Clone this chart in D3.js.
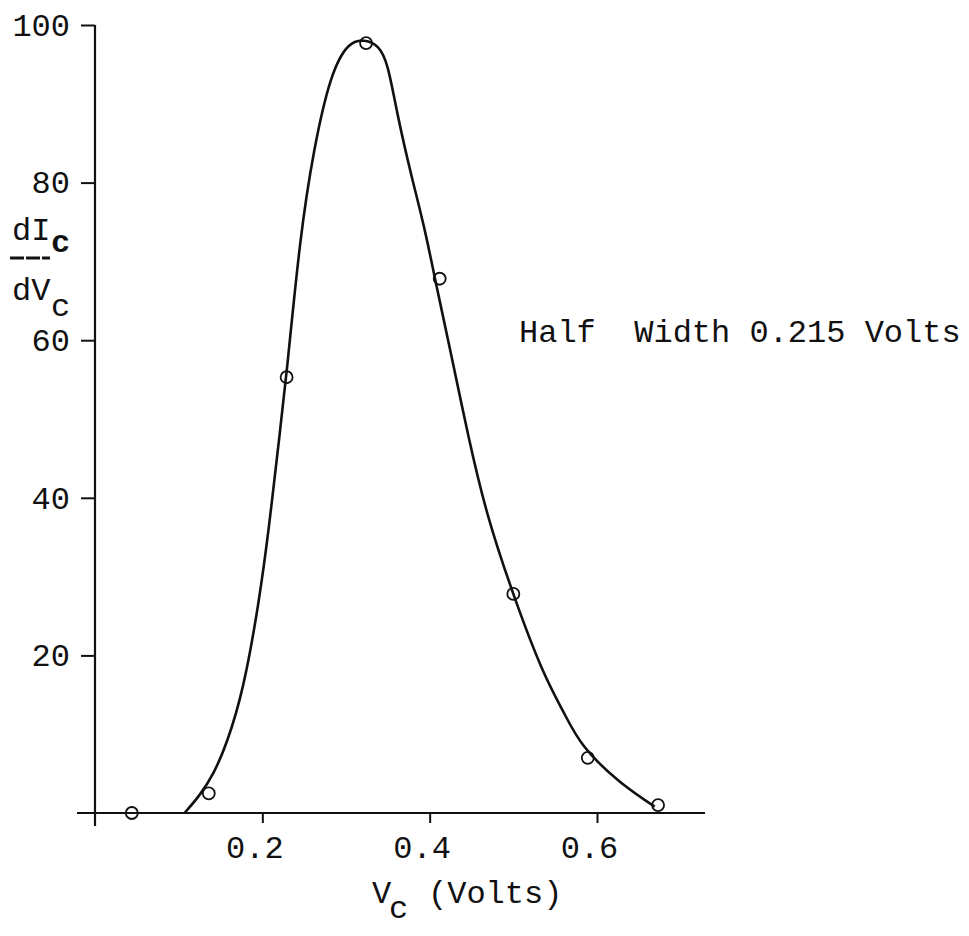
<!DOCTYPE html>
<html>
<head>
<meta charset="utf-8">
<script src="https://cdn.jsdelivr.net/npm/d3@7"></script>
<style>
  html, body { margin: 0; padding: 0; background: #fff; }
  svg text { font-family: "Liberation Mono", "DejaVu Sans Mono", monospace; fill: #111; }
</style>
</head>
<body>
<svg id="chart" width="969" height="936"></svg>
<script>
// Measured points: collector voltage (V) and dIc/dVc
const pointVolts = [0.044, 0.136, 0.229, 0.324, 0.412, 0.500, 0.589, 0.673];
const pointSlope = [0, 2.5, 55.3, 97.7, 67.8, 27.8, 7, 1];

// Hand-faired curve through the measurements
const curveVolts = [0.107, 0.125, 0.142, 0.158, 0.177, 0.195, 0.208, 0.219, 0.230, 0.245, 0.262, 0.282, 0.303, 0.322, 0.338, 0.350, 0.362, 0.378, 0.394, 0.409, 0.424, 0.446, 0.469, 0.500, 0.534, 0.560, 0.585, 0.627, 0.669];
const curveSlope = [0, 2.3, 5.2, 9.2, 16.2, 26.5, 36.5, 46.5, 57, 72, 84, 93, 97.3, 98, 97.2, 94.5, 88.5, 81, 74, 66.5, 59, 48, 38, 27.8, 18.4, 12.8, 8.4, 4.0, 0.8];

const xTicks = [0.2, 0.4, 0.6];
const xTickLabels = ["0.2", "0.4", "0.6"];
const yTicks = [20, 40, 60, 80, 100];
const note = "Half  Width 0.215 Volts";

const svg = d3.select("#chart");

const x = d3.scaleLinear().domain([0, 0.6]).range([95, 597]);
const y = d3.scaleLinear().domain([0, 100]).range([813, 25]);

const ink = "#111";

// Axes
const yAxis = d3.axisLeft(y).tickValues(yTicks).tickSize(14).tickPadding(11).tickFormat(d3.format("d"));
const gy = svg.append("g").attr("transform", `translate(${x(0)},0)`).call(yAxis);
gy.select(".domain").remove();
gy.selectAll(".tick line").attr("stroke", ink).attr("stroke-width", 2);
gy.selectAll(".tick text")
  .attr("font-size", 32).attr("dy", "0.32em").attr("fill", ink)
  .style("font-family", "'Liberation Mono', monospace");

svg.append("line")
  .attr("x1", x(0)).attr("x2", x(0))
  .attr("y1", y(100)).attr("y2", y(0) + 13)
  .attr("stroke", ink).attr("stroke-width", 2.2);

const xAxis = d3.axisBottom(x).tickValues(xTicks).tickSize(10).tickPadding(12)
  .tickFormat((d, i) => xTickLabels[i]);
const gx = svg.append("g").attr("transform", `translate(0,${y(0)})`).call(xAxis);
gx.select(".domain").remove();
gx.selectAll(".tick line").attr("stroke", ink).attr("stroke-width", 2);
gx.selectAll(".tick text")
  .attr("font-size", 32).attr("dx", -8).attr("dy", "0.72em").attr("fill", ink)
  .style("font-family", "'Liberation Mono', monospace");

svg.append("line")
  .attr("x1", 77).attr("x2", 705)
  .attr("y1", y(0)).attr("y2", y(0))
  .attr("stroke", ink).attr("stroke-width", 2);

// Faired curve
const line = d3.line()
  .x((d, i) => x(curveVolts[i]))
  .y((d, i) => y(curveSlope[i]))
  .curve(d3.curveNatural);
svg.append("path")
  .datum(curveVolts)
  .attr("d", line)
  .attr("fill", "none")
  .attr("stroke", ink)
  .attr("stroke-width", 2.6);

// Measured points
svg.append("g").selectAll("circle")
  .data(pointVolts)
  .join("circle")
  .attr("cx", (d) => x(d))
  .attr("cy", (d, i) => y(pointSlope[i]))
  .attr("r", 6)
  .attr("fill", "none")
  .attr("stroke", ink)
  .attr("stroke-width", 1.8);

// Annotation
svg.append("text")
  .attr("x", 519).attr("y", 342)
  .attr("font-size", 32)
  .attr("xml:space", "preserve")
  .style("white-space", "pre")
  .text(note);

// y-axis title: dIc / dVc
const yt = svg.append("g");
yt.append("text").attr("x", 12).attr("y", 240).attr("font-size", 32).text("dI");
yt.append("text").attr("x", 51).attr("y", 252).attr("font-size", 32).attr("font-weight", "bold").text("c");
yt.append("line").attr("x1", 10).attr("x2", 50).attr("y1", 258).attr("y2", 258)
  .attr("stroke", ink).attr("stroke-width", 3).attr("stroke-dasharray", "14 2");
yt.append("text").attr("x", 12).attr("y", 300).attr("font-size", 32).text("dV");
yt.append("text").attr("x", 51).attr("y", 316).attr("font-size", 32).text("c");

// x-axis title: Vc (Volts)
const xt = svg.append("g");
xt.append("text").attr("x", 372).attr("y", 903).attr("font-size", 32).text("V");
xt.append("text").attr("x", 389).attr("y", 918).attr("font-size", 32).text("c");
xt.append("text").attr("x", 428).attr("y", 903).attr("font-size", 32).text("(Volts)");
</script>
</body>
</html>
